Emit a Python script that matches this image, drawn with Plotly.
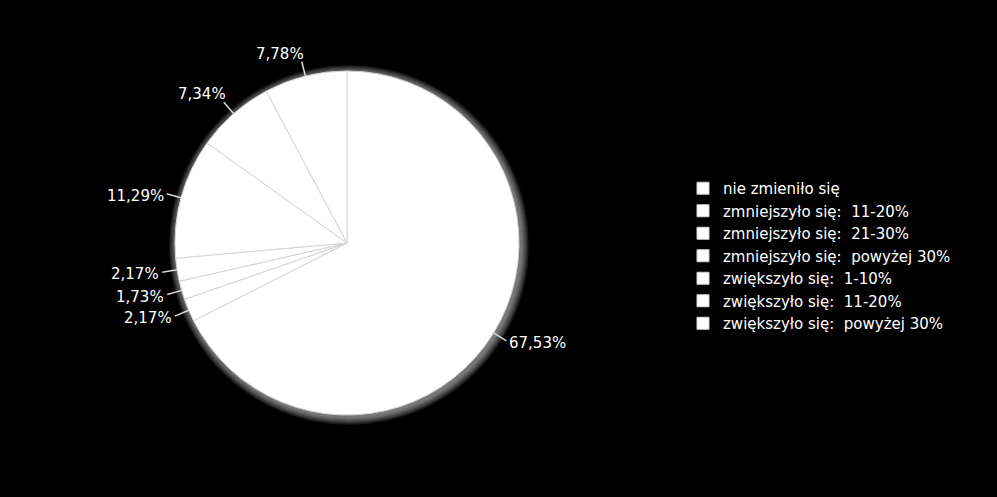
import math
import plotly.graph_objects as go

categories = [
    "nie zmieniło się",
    "zmniejszyło się:\u00a0 11-20%",
    "zmniejszyło się:\u00a0 21-30%",
    "zmniejszyło się:\u00a0 powyżej 30%",
    "zwiększyło się:\u00a0 1-10%",
    "zwiększyło się:\u00a0 11-20%",
    "zwiększyło się:\u00a0 powyżej 30%",
]
values = [67.53, 2.17, 1.73, 2.17, 11.29, 7.34, 7.78]

W, H = 997, 497
CX, CY, R = 347, 243, 172

def px(x):
    return x / W

def py(y):
    return 1 - y / H

fig = go.Figure()
fig.add_trace(go.Pie(
    labels=categories,
    values=values,
    sort=False,
    direction="clockwise",
    rotation=0,
    textinfo="none",
    hoverinfo="label+percent",
    marker=dict(colors=["#ffffff"] * len(values),
                line=dict(color="#d4d4d4", width=1)),
    domain=dict(x=[px(CX - R), px(CX + R)], y=[py(CY + R), py(CY - R)]),
    showlegend=True,
))

shapes = []
# soft glow around the pie
for k in range(8, 0, -1):
    rr = R + k
    ox, oy = CX + 2, CY + 2
    shapes.append(dict(type="circle", xref="paper", yref="paper",
                       x0=px(ox - rr), x1=px(ox + rr), y0=py(oy + rr), y1=py(oy - rr),
                       fillcolor="rgba(255,255,255,0.08)", line=dict(width=0), layer="below"))

annotations = []
total = sum(values)
cum = 0.0
for v in values:
    mid = (cum + v / 2) / total * 2 * math.pi
    cum += v
    dx, dy = math.sin(mid), -math.cos(mid)
    x0, y0 = CX + R * dx, CY + R * dy
    x1, y1 = CX + (R + 15) * dx, CY + (R + 15) * dy
    shapes.append(dict(type="line", xref="paper", yref="paper",
                       x0=px(x0), y0=py(y0), x1=px(x1), y1=py(y1),
                       line=dict(color="#d9d9d9", width=1.5)))
    txt = f"{v:.2f}".replace(".", ",") + "%"
    if dx >= 0:
        xa, tx = "left", x1 + 1
    else:
        xa, tx = "right", x1 + (4 if dy < -0.5 else -1)
    if dy < -0.5:
        ya, ty = "bottom", y1 + 3
    else:
        ya, ty = "middle", y1 + 2
    annotations.append(dict(text=txt, x=px(tx), y=py(ty), xref="paper", yref="paper",
                            xanchor=xa, yanchor=ya, showarrow=False,
                            font=dict(color="#ffffff", size=15, family="DejaVu Sans")))

fig.update_layout(
    width=W, height=H,
    paper_bgcolor="#000000", plot_bgcolor="#000000",
    margin=dict(l=0, r=0, t=0, b=0),
    font=dict(family="DejaVu Sans", color="#ffffff"),
    shapes=shapes,
    annotations=annotations,
    legend=dict(x=px(683), y=py(256), xanchor="left", yanchor="middle",
                font=dict(size=15, color="#ffffff", family="DejaVu Sans"),
                bgcolor="rgba(0,0,0,0)", tracegroupgap=0),
)

fig.write_html("out.html",
               config={"displayModeBar": False},
               post_script="document.body.style.margin='0';document.body.style.background='#000';")
